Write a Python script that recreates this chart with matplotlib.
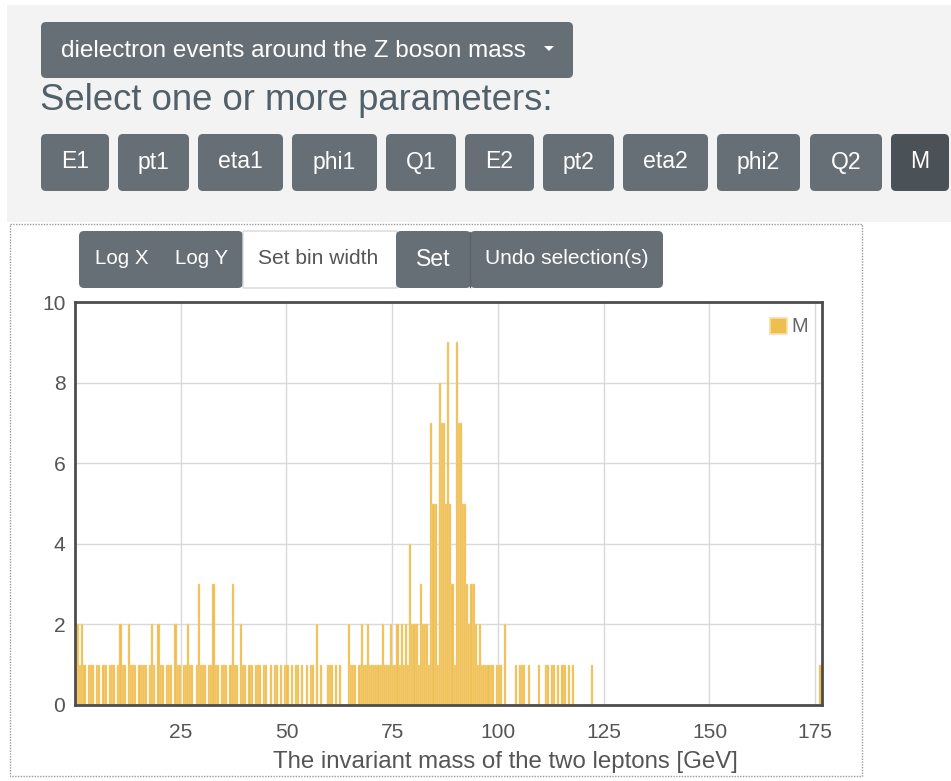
import numpy as np
import matplotlib
matplotlib.use("Agg")
import matplotlib.pyplot as plt
from matplotlib.patches import FancyBboxPatch, Rectangle, Polygon

# ---------------- data (counts per 0.5 GeV bin) ----------------
bin_width = 0.5
counts_0_10 = [2, 2, 1, 2, 1, 0, 1, 1, 1, 0, 1, 1, 0, 1, 1, 0, 1, 1, 1, 0]
counts_10_20 = [1, 2, 1, 1, 0, 2, 1, 1, 1, 0, 1, 1, 1, 1, 0, 1, 2, 1, 0, 2]
counts_20_30 = [1, 1, 0, 1, 1, 1, 0, 2, 1, 1, 0, 1, 1, 2, 1, 1, 0, 1, 3, 1]
counts_30_40 = [1, 1, 0, 1, 1, 3, 1, 1, 0, 1, 1, 1, 0, 1, 3, 1, 1, 0, 2, 1]
counts_40_50 = [1, 0, 1, 1, 0, 1, 1, 1, 0, 1, 1, 0, 1, 0, 1, 1, 0, 1, 0, 1]
counts_50_60 = [1, 0, 1, 0, 1, 1, 0, 1, 0, 1, 0, 1, 1, 0, 2, 0, 1, 0, 0, 1]
counts_60_70 = [1, 1, 0, 1, 0, 1, 0, 0, 0, 2, 1, 1, 1, 0, 1, 2, 1, 1, 2, 1]
counts_70_80 = [1, 1, 1, 1, 1, 2, 1, 1, 1, 2, 1, 1, 2, 1, 2, 1, 2, 1, 4, 2]
counts_80_90 = [2, 2, 1, 3, 2, 2, 2, 1, 7, 5, 5, 1, 8, 7, 7, 5, 9, 5, 3, 1]
counts_90_100 = [9, 7, 7, 5, 5, 3, 2, 3, 3, 2, 1, 2, 1, 1, 1, 1, 1, 1, 0, 1]
counts_100_110 = [1, 1, 0, 2, 0, 0, 0, 0, 1, 0, 1, 1, 1, 0, 1, 0, 0, 0, 0, 1]
counts_110_120 = [0, 0, 1, 1, 0, 1, 1, 0, 1, 0, 1, 1, 0, 1, 0, 1, 0, 0, 0, 0]
counts_120_130 = [0, 0, 0, 0, 1, 0, 0, 0, 0, 0, 0, 0, 0, 0, 0, 0, 0, 0, 0, 0]
counts_130_1765 = [0, 0, 0, 0, 0, 0, 0, 0, 0, 0, 0, 0, 0, 0, 0, 0, 0, 0, 0, 0,
                   0, 0, 0, 0, 0, 0, 0, 0, 0, 0, 0, 0, 0, 0, 0, 0, 0, 0, 0, 0,
                   0, 0, 0, 0, 0, 0, 0, 0, 0, 0, 0, 0, 0, 0, 0, 0, 0, 0, 0, 0,
                   0, 0, 0, 0, 0, 0, 0, 0, 0, 0, 0, 0, 0, 0, 0, 0, 0, 0, 0, 0,
                   0, 0, 0, 0, 0, 0, 0, 0, 0, 0, 0, 0, 1]

series_name = "M"
x_label = "The invariant mass of the two leptons [GeV]"
x_ticks = [25, 50, 75, 100, 125, 150, 175]
y_ticks = [0, 2, 4, 6, 8, 10]
dataset_label = "dielectron events around the Z boson mass"
param_buttons = ["E1", "pt1", "eta1", "phi1", "Q1", "E2", "pt2", "eta2", "phi2", "Q2", "M"]

counts = np.array(counts_0_10 + counts_10_20 + counts_20_30 + counts_30_40 + counts_40_50
                  + counts_50_60 + counts_60_70 + counts_70_80 + counts_80_90 + counts_90_100
                  + counts_100_110 + counts_110_120 + counts_120_130 + counts_130_1765)
left_edges = np.arange(len(counts)) * bin_width

# ---------------- figure ----------------
W, H = 951, 781
fig = plt.figure(figsize=(W / 100, H / 100), dpi=100)
fig.patch.set_facecolor("white")
FONT = ["Liberation Sans", "DejaVu Sans"]

bg = fig.add_axes([0, 0, 1, 1], zorder=0)
bg.set_xlim(0, W)
bg.set_ylim(H, 0)
bg.axis("off")

BTN = "#676f76"
BTN_DARK = "#4a5157"


def rbox(x0, y0, x1, y1, fc, ec="none", r=5, lw=0, z=2):
    p = FancyBboxPatch((x0, y0), x1 - x0, y1 - y0,
                       boxstyle=f"round,pad=0,rounding_size={r}",
                       fc=fc, ec=ec, lw=lw, zorder=z)
    bg.add_patch(p)


def px(v):
    return v * 0.72


# gray page header area
bg.add_patch(Rectangle((7, 5), W - 7, 217, fc="#f3f3f3", ec="none", zorder=1))

# dropdown
rbox(41, 22, 573, 78, BTN)
bg.text(61, 51, dataset_label, color="white", fontsize=px(24.3), family=FONT,
        va="center", ha="left", zorder=3)
bg.add_patch(Polygon([[544, 46], [554, 46], [549, 51]], closed=True, fc="white",
                     ec="none", zorder=3))

# heading
bg.text(40, 101, "Select one or more parameters:", color="#52606a", fontsize=px(36.5),
        family=FONT, va="center", ha="left", zorder=3)

# parameter buttons
btn_pos = [(41, 109), (118, 189), (198, 283), (292, 377), (386, 456), (465, 534),
           (543, 614), (623, 708), (717, 800), (810, 882), (891, 949)]
for name, (a, b) in zip(param_buttons, btn_pos):
    col = BTN_DARK if name == "M" else BTN
    rbox(a, 134, b, 191, col)
    bg.text((a + b) / 2, 162, name, color="white", fontsize=px(23), family=FONT,
            va="center", ha="center", zorder=3)

# dotted chart container
bg.add_patch(Rectangle((10, 224), 852, 552, fc="none", ec="#9a9a9a", lw=1,
                       ls=(0, (1, 1)), zorder=1))

# toolbar
rbox(79, 231, 243, 288, BTN)
rbox(243, 231, 397, 288, "white", ec="#d8d8d8", r=1, lw=1)
rbox(396, 231, 471, 288, BTN)
rbox(470, 231, 663, 288, BTN)
bg.plot([470, 470], [232, 287], color="#5a6167", lw=1, zorder=3)
bg.text(122, 259, "Log X", color="white", fontsize=px(20.5), family=FONT, va="center",
        ha="center", zorder=3)
bg.text(202, 259, "Log Y", color="white", fontsize=px(20.5), family=FONT, va="center",
        ha="center", zorder=3)
bg.text(318, 259, "Set bin width", color="#555555", fontsize=px(21), family=FONT,
        va="center", ha="center", zorder=3)
bg.text(433, 259, "Set", color="white", fontsize=px(23), family=FONT, va="center",
        ha="center", zorder=3)
bg.text(567, 259, "Undo selection(s)", color="white", fontsize=px(21), family=FONT,
        va="center", ha="center", zorder=3)

# ---------------- chart ----------------
L, R, T, B = 75, 822, 302, 705
ax = fig.add_axes([L / W, 1 - B / H, (R - L) / W, (B - T) / H], zorder=2)
ax.set_facecolor("white")
bar_color = "#efbe50"
ax.bar(left_edges, counts, width=bin_width, align="edge", color=bar_color,
       edgecolor="#f5d998", linewidth=0.3, zorder=2)
ax.set_xlim(0, 176.6)
ax.set_ylim(0, 10)
ax.set_xticks(x_ticks)
ax.set_yticks(y_ticks)
ax.grid(True, color="#d9d9d9", lw=1, zorder=0)
ax.set_axisbelow(True)
for s in ax.spines.values():
    s.set_color("#4d4d4d")
    s.set_linewidth(2)
ax.tick_params(axis="x", length=0, labelsize=px(21), labelcolor="#555555", pad=13)
ax.tick_params(axis="y", length=0, labelsize=px(21), labelcolor="#555555", pad=7)
for lab in ax.get_xticklabels() + ax.get_yticklabels():
    lab.set_family(FONT)
ax.set_xlabel(x_label, fontsize=px(24), color="#555555", family=FONT)
ax.xaxis.set_label_coords(0.576, -0.113)

# legend (overlay axes in pixel coordinates)
fg = fig.add_axes([0, 0, 1, 1], zorder=5)
fg.set_xlim(0, W)
fg.set_ylim(H, 0)
fg.axis("off")
fg.patch.set_alpha(0)
fg.add_patch(Rectangle((770, 318), 17, 16, fc=bar_color, ec="#f7dfa5", lw=1.2))
fg.text(791, 327, series_name, color="#666666", fontsize=px(20), family=FONT,
        va="center", ha="left")

fig.savefig("out.png", dpi=100, facecolor="white")
